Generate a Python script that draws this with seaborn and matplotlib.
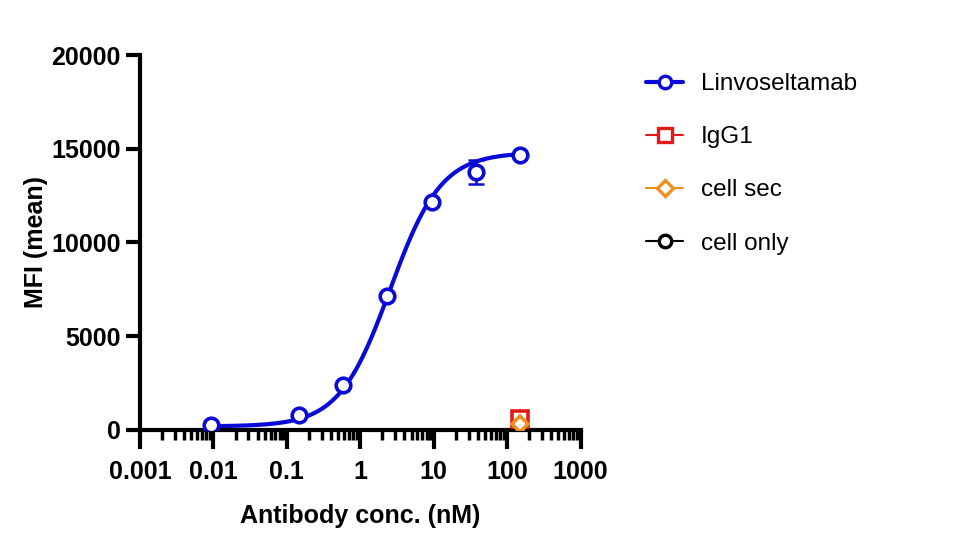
import numpy as np
import pandas as pd
import seaborn as sns
import matplotlib.pyplot as plt
from matplotlib.lines import Line2D
from matplotlib.ticker import LogLocator, FixedLocator

sns.set_style("ticks")
plt.rcParams['font.family'] = ['Liberation Sans', 'DejaVu Sans']
plt.rcParams['text.color'] = 'black'
plt.rcParams['axes.labelcolor'] = 'black'
plt.rcParams['xtick.color'] = 'black'
plt.rcParams['ytick.color'] = 'black'

# data
conc = [0.00916, 0.146, 0.586, 2.34, 9.375, 37.5, 150]
linvo_mfi = [250, 800, 2400, 7150, 12150, 13750, 14650]
linvo_err = [0, 0, 0, 0, 0, 650, 0]
ctrl_conc = [150]
igg1_mfi = [600]
cell_sec_mfi = [300]
cell_only_mfi = [120]

# 4PL fit parameters for the drawn curve
fit_bottom, fit_top, fit_ec50, fit_hill = 180, 14800, 2.55, 1.25

df = pd.DataFrame({'conc': conc, 'mfi': linvo_mfi, 'err': linvo_err})
xs = np.logspace(np.log10(conc[0]), np.log10(conc[-1]), 300)
ys = fit_bottom + (fit_top - fit_bottom) / (1 + (fit_ec50 / xs) ** fit_hill)

fig = plt.figure(figsize=(9.79, 5.56), dpi=100)
ax = fig.add_axes([0.143, 0.227, 0.45, 0.674])

blue = '#0a0ad8'
red = '#e41a1a'
orange = '#f0901e'

ax.plot(xs, ys, color=blue, lw=3, zorder=2)
ax.errorbar(df['conc'], df['mfi'], yerr=df['err'], fmt='none', ecolor=blue,
            elinewidth=1.8, capsize=6, capthick=1.8, zorder=2)
sns.scatterplot(data=df, x='conc', y='mfi', ax=ax, marker='o', s=110,
                facecolor='white', edgecolor=blue, linewidth=2.6, zorder=3)
ax.plot(ctrl_conc, cell_only_mfi, 'o', ms=9, mfc='white', mec='black', mew=2.4, zorder=3)
ax.plot(ctrl_conc, igg1_mfi, 's', ms=11, mfc='white', mec=red, mew=2.6, zorder=4)
ax.plot(ctrl_conc, cell_sec_mfi, 'D', ms=8, mfc='white', mec=orange, mew=2.6, zorder=5)

ax.set_xscale('log')
ax.set_xlim(0.001, 1000)
ax.set_ylim(0, 20000)
ax.set_yticks([0, 5000, 10000, 15000, 20000])
ax.xaxis.set_major_locator(FixedLocator([0.001, 0.01, 0.1, 1, 10, 100, 1000]))
ax.xaxis.set_minor_locator(LogLocator(base=10, subs=np.arange(2, 10)))
ax.set_xticklabels(['0.001', '0.01', '0.1', '1', '10', '100', '1000'])

for s in ['top', 'right']:
    ax.spines[s].set_visible(False)
for s in ['left', 'bottom']:
    ax.spines[s].set_linewidth(3)
    ax.spines[s].set_color('black')

ax.tick_params(axis='y', which='major', width=3, length=10, labelsize=18, pad=4)
ax.tick_params(axis='x', which='major', width=3, length=14, labelsize=18, pad=8)
ax.tick_params(axis='x', which='minor', width=2.5, length=7)
for lab in ax.get_xticklabels() + ax.get_yticklabels():
    lab.set_fontweight('bold')

ax.set_xlabel('Antibody conc. (nM)', fontsize=18, fontweight='bold', labelpad=14)
ax.set_ylabel('MFI (mean)', fontsize=18, fontweight='bold', labelpad=2)

handles = [
    Line2D([], [], color=blue, lw=3, marker='o', ms=9, mfc='white', mec=blue, mew=2.4),
    Line2D([], [], color=red, lw=1.5, marker='s', ms=10, mfc='white', mec=red, mew=2.4),
    Line2D([], [], color=orange, lw=1.5, marker='D', ms=8, mfc='white', mec=orange, mew=2.4),
    Line2D([], [], color='black', lw=1.5, marker='o', ms=9, mfc='white', mec='black', mew=2.4),
]
ax.legend(handles, ['Linvoseltamab', 'IgG1', 'cell sec', 'cell only'],
          loc='upper left', bbox_to_anchor=(1.1, 1.01), frameon=False,
          fontsize=17.5, handlelength=1.5, handletextpad=0.75, labelspacing=1.28)

fig.savefig('out.png', dpi=100)
